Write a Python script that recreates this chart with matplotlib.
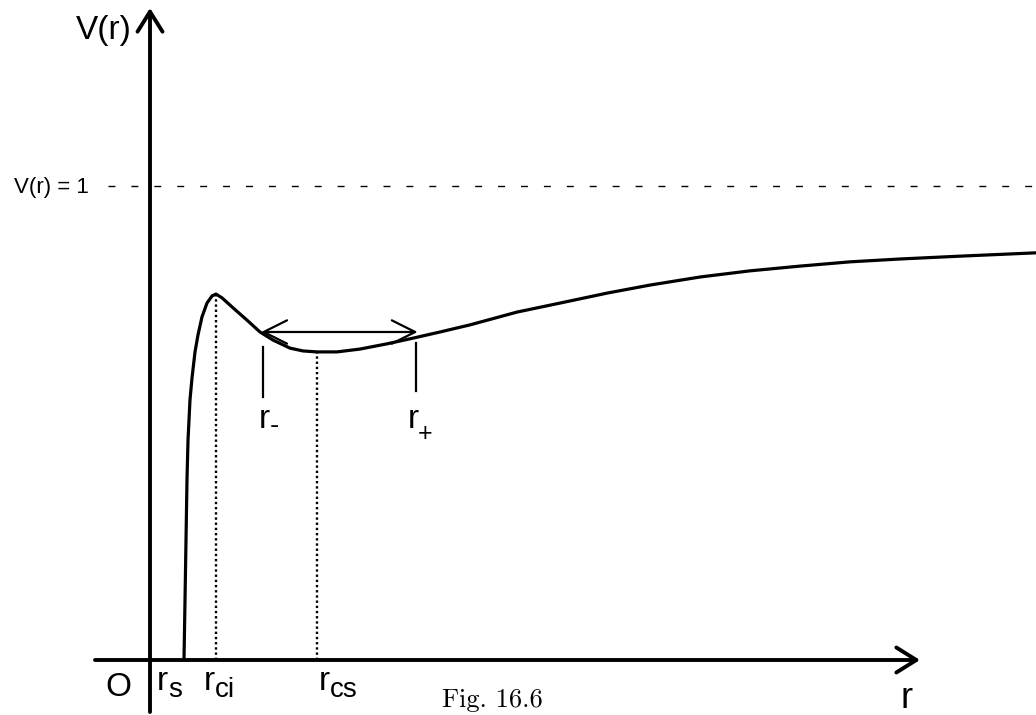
import matplotlib
matplotlib.use("Agg")
import matplotlib.pyplot as plt
import matplotlib.transforms as mtransforms

plt.rcParams['font.family'] = ['Liberation Sans', 'DejaVu Sans']

# potential curve V(r) (r in arbitrary units, r_s ~ 1)
r = [1.030, 1.061, 1.091, 1.121, 1.152, 1.212, 1.273, 1.364, 1.455, 1.576, 1.727,
     1.879, 2.000, 2.182, 2.515, 2.939, 3.333, 3.727, 4.242, 4.636, 5.061, 5.667,
     6.364, 7.182, 7.970, 8.788, 9.697, 11.121, 12.424, 13.848, 15.152, 16.667,
     18.182, 19.697, 21.212, 22.727, 24.545, 26.848]
V = [0.000, 0.127, 0.253, 0.380, 0.464, 0.549, 0.595, 0.650, 0.686, 0.724, 0.753,
     0.768, 0.772, 0.764, 0.743, 0.717, 0.692, 0.675, 0.658, 0.652, 0.650, 0.650,
     0.656, 0.667, 0.679, 0.692, 0.707, 0.734, 0.753, 0.774, 0.791, 0.808,
     0.821, 0.831, 0.840, 0.846, 0.852, 0.859]

r_ci, V_ci = 2.00, 0.772
r_cs, V_cs = 5.06, 0.650
r_minus, r_plus = 3.42, 8.06
V_level = 0.692

fig = plt.figure(figsize=(10.36, 7.15), dpi=100)
ax = fig.add_axes([0, 0, 1, 1])
ax.set_xlim(-150 / 33, 886 / 33)
ax.set_ylim(-55 / 474, 660 / 474)
ax.axis('off')

# axes with open arrow heads
head = '->,head_length=0.48,head_width=0.3'
ax.annotate('', xy=(0, 652 / 474), xytext=(0, -52 / 474),
            arrowprops=dict(arrowstyle=head, lw=2.8, color='black',
                            mutation_scale=30, shrinkA=0, shrinkB=0))
ax.annotate('', xy=(770 / 33, 0), xytext=(-55 / 33, 0),
            arrowprops=dict(arrowstyle=head, lw=2.8, color='black',
                            mutation_scale=30, shrinkA=0, shrinkB=0))

# V(r) = 1 level
ax.plot([-42 / 33, 886 / 33], [1, 1], color='black', lw=1.0, dashes=(5, 11.5))

# the curve
ax.plot(r, V, color='black', lw=2.3, solid_joinstyle='round', solid_capstyle='round')

# dotted drop lines
ax.plot([r_ci, r_ci], [0, V_ci], color='black', lw=1.7, ls=(0, (1, 1.2)))
ax.plot([r_cs, r_cs], [0, V_cs], color='black', lw=1.7, ls=(0, (1, 1.2)))

# r- / r+ double arrow and markers
ax.annotate('', xy=(r_minus - 0.05, V_level), xytext=(r_plus + 0.05, V_level),
            arrowprops=dict(arrowstyle='<->,head_length=0.6,head_width=0.3',
                            lw=1.6, color='black', mutation_scale=28,
                            shrinkA=0, shrinkB=0))
ax.plot([r_minus, r_minus], [0.555, 0.660], color='black', lw=1.6)
ax.plot([r_plus, r_plus], [0.567, 0.669], color='black', lw=1.6)

# text placed in pixel coordinates
pix = mtransforms.Affine2D().scale(1 / 1036, -1 / 715).translate(0, 1) + fig.transFigure


def label(x, y, main, sub, dx, dy, subsize=20):
    ax.text(x, y, main, transform=pix, fontsize=24, ha='left', va='baseline')
    ax.text(x + dx, y + dy, sub, transform=pix, fontsize=subsize,
            ha='left', va='baseline')


ax.text(104, 30, 'V(r)', transform=pix, fontsize=24, ha='center', va='center')
ax.text(89, 187, 'V(r) = 1', transform=pix, fontsize=16, ha='right', va='center')
ax.text(118, 687, 'O', transform=pix, fontsize=24, ha='center', va='center')
label(157, 690, 'r', 's', 11, 7)
label(204, 690, 'r', 'ci', 11, 7)
label(319, 690, 'r', 'cs', 11, 7)
label(259, 428, 'r', '-', 11, 5)
label(408, 428, 'r', '+', 10, 13, subsize=18)
ax.text(907, 708, 'r', transform=pix, fontsize=26, ha='center', va='baseline')
ax.text(442, 707, 'Fig. 16.6', transform=pix, fontsize=19, family='cmr10',
        ha='left', va='baseline')

fig.savefig('out.png', dpi=100)
